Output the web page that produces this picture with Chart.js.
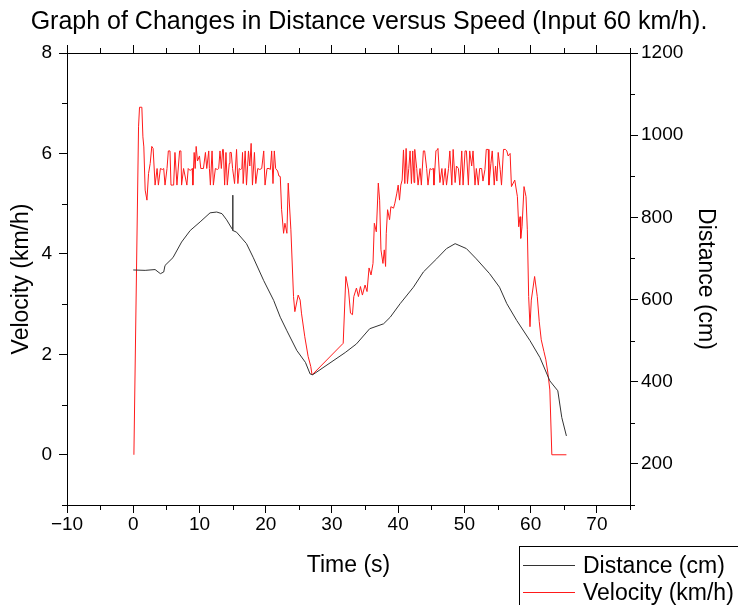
<!DOCTYPE html>
<html lang="en">
<head>
<meta charset="UTF-8">
<title>Distance versus Speed</title>
<script src="https://cdn.jsdelivr.net/npm/chart.js"></script>
<style>
  html, body { margin: 0; padding: 0; background: #fff; overflow: hidden; }
  #wrap { position: relative; width: 738px; height: 605px; }
  #legend { position: absolute; left: 519px; top: 546px; width: 240px; height: 80px;
            border: 1px solid #000; font-family: "Liberation Sans", Arial, sans-serif; font-size: 23px; color: #000; }
  .item { position: absolute; left: 0; height: 27px; display: flex; align-items: center; white-space: nowrap; }
  .swatch { width: 52px; height: 0; border-top: 1px solid; margin: 0 8px 0 3px; }
</style>
</head>
<body>
<div id="wrap">
  <canvas id="myChart" width="738" height="605"></canvas>
  <div id="legend"></div>
</div>
<script>
// tick labels
const xTicks = [-10, 0, 10, 20, 30, 40, 50, 60, 70];
const velTicks = [0, 2, 4, 6, 8];
const distTicks = [200, 400, 600, 800, 1000, 1200];

// distance (cm)
const distTime = [0, 1.8, 3.3, 4.1, 4.6, 4.8, 6.0, 7.3, 8.6, 10.1, 11.6, 12.6, 13.4, 14.1, 15.0, 15.02, 15.05, 15.6,
  17.1, 18.1, 19.7, 21.2, 22.2, 23.2, 24.7, 26.0, 26.7, 27.1, 32.0, 33.7, 35.7, 37.8, 38.8, 40.3, 42.3, 43.8,
  45.8, 47.3, 48.6, 50.3, 51.8, 53.8, 55.3, 56.4, 57.9, 59.9, 61.4, 62.9, 64.1, 64.7, 65.4];
const distValues = [672, 671, 673, 663, 667, 683, 702, 740, 768, 789, 811, 813, 809, 794, 770, 854, 768, 764,
  736, 703, 646, 598, 557, 524, 476, 447, 419, 417, 471, 492, 529, 541, 557, 590, 630, 667,
  699, 724, 736, 724, 699, 663, 630, 590, 549, 500, 459, 402, 378, 313, 268];

// velocity (km/h)
const velTime = [0.1, 0.8, 0.95, 1.3, 1.46, 1.6, 1.8, 2.07, 2.31, 2.56, 2.8, 3.0, 3.3, 3.6, 3.8, 4.1, 4.4, 4.6, 4.8,
  5.1, 5.3, 5.55, 5.7, 5.9, 6.1, 6.3, 6.6, 7.0, 7.2, 7.3, 7.6, 8.1, 8.3, 8.6, 8.9, 9.0, 9.2, 9.35, 9.5, 9.7,
  10.0, 10.2, 10.6, 10.9, 11.1, 11.4, 11.5, 11.65, 11.9, 12.1, 12.4, 12.7, 12.9, 13.1, 13.3, 13.5, 13.6, 13.8,
  14.0, 14.2, 14.5, 14.6, 14.8, 15.0, 15.3, 15.6, 15.8, 16.0, 16.2, 16.4, 16.5, 16.6, 16.9, 17.1, 17.4, 17.6,
  17.8, 18.0, 18.3, 18.5, 18.8, 19.1, 19.4, 19.7, 19.9, 20.2, 20.5, 20.7, 20.9, 21.1, 21.3, 21.5, 21.8, 22.0,
  22.2, 22.4, 22.7, 22.9, 23.2, 23.4, 23.8, 24.2, 24.4, 24.9, 25.2, 25.4, 25.9, 26.4, 26.8, 27.0,
  31.7, 32.1, 32.5, 32.8, 33.1, 33.3, 33.7, 34.0, 34.3, 34.6, 35.0, 35.3, 35.6, 35.9, 36.2, 36.4, 36.7, 37.0,
  37.2, 37.4, 37.7, 37.9, 38.1, 38.2, 38.4, 38.7, 38.9, 39.3, 39.5, 39.8, 40.0, 40.2, 40.4, 40.6, 40.8,
  41.0, 41.2, 41.4, 41.6, 41.8, 42.0, 42.2, 42.4, 42.5, 42.8, 43.0, 43.3, 43.5, 43.8, 44.0, 44.3, 44.5, 44.8,
  45.0, 45.3, 45.4, 45.7, 45.9, 46.0, 46.3, 46.6, 46.8, 47.1, 47.3, 47.6, 47.8, 48.1, 48.3, 48.6, 48.8, 49.1,
  49.3, 49.6, 49.8, 50.1, 50.3, 50.6, 50.8, 51.1, 51.3, 51.6, 51.8, 52.1, 52.3, 52.6, 52.8, 53.1, 53.3, 53.6,
  53.7, 54.0, 54.2, 54.5, 54.7, 54.9, 55.1, 55.4, 55.6, 55.9, 56.2, 56.4, 56.6, 56.9, 57.1, 57.6, 58.0, 58.2,
  58.4, 58.5, 58.7, 59.0, 59.3, 59.5, 59.7, 59.9, 60.1, 60.6, 61.0, 61.3, 61.6, 62.0, 62.3, 62.6, 62.9, 63.2, 65.4];
const velValues = [0, 6.53, 6.92, 6.92, 6.33, 6.13, 5.27, 5.07, 5.6, 5.8, 6.14, 6.1, 5.37, 5.7, 5.37, 5.7, 5.68, 5.7, 5.37,
  5.7, 6.05, 6.05, 5.37, 5.37, 5.37, 6.02, 5.37, 6.05, 6.05, 5.37, 5.7, 5.37, 5.7, 5.66, 5.7, 5.37, 6.02, 5.7, 6.14, 5.85,
  5.95, 5.7, 5.7, 6.02, 5.7, 6.05, 5.7, 5.37, 6.05, 5.37, 5.7, 5.68, 5.7, 6.05, 5.7, 6.08, 6.08, 5.37,
  6.02, 5.37, 5.8, 6.02, 6.02, 5.7, 5.4, 6.08, 5.4, 5.7, 5.68, 5.7, 6.02, 5.4, 6.05, 5.37, 6.05, 5.75,
  6.2, 5.37, 6.02, 5.4, 5.7, 5.68, 5.7, 6.05, 5.37, 5.7, 5.7, 5.68, 6.05, 5.4, 6.05, 5.7, 5.65, 5.55,
  5.54, 4.88, 4.41, 4.61, 4.41, 5.41, 4.48, 3.15, 2.85, 3.18, 3.08, 2.82, 2.35, 1.96, 1.76, 1.59,
  2.22, 3.55, 3.28, 2.82, 2.79, 3.15, 3.32, 3.15, 3.35, 3.18, 3.38, 3.25, 3.72, 3.58, 3.81, 4.61, 4.44, 5.41,
  5.07, 4.08, 3.81, 4.08, 3.75, 4.41, 4.88, 4.68, 4.94, 4.91, 5.01, 5.21, 5.37, 5.07, 5.37, 5.47, 6.07,
  5.4, 6.1, 5.4, 5.7, 6.05, 5.4, 6.05, 5.42, 6.08, 5.7, 5.37, 5.7, 5.37, 6.05, 6.05, 5.7, 5.37, 5.7,
  5.68, 5.7, 5.37, 6.05, 6.08, 6.1, 5.42, 5.7, 5.37, 5.7, 5.37, 5.7, 6.05, 5.37, 6.08, 5.42, 5.75, 5.7,
  5.37, 6.05, 5.37, 6.05, 6.05, 5.37, 6.05, 5.75, 6.05, 5.37, 5.7, 5.37, 5.7, 5.7, 5.45, 5.68, 6.08, 6.08,
  5.37, 5.8, 6.05, 5.37, 5.75, 5.45, 6.02, 5.68, 5.37, 6.08, 6.08, 6.05, 5.95, 6.0, 5.34, 5.47, 5.14, 4.54,
  4.74, 4.31, 4.54, 5.34, 5.14, 4.48, 3.15, 2.55, 3.08, 3.55, 3.15, 2.65, 2.29, 2.06, 1.89, 1.63, 1.29, 0, 0];

const FONT = '"Liberation Sans", Arial, sans-serif';
Chart.defaults.font.family = FONT;
Chart.defaults.color = '#000';

const distPoints = distTime.map((t, i) => ({ x: t, y: distValues[i] }));
const velPoints = velTime.map((t, i) => ({ x: t, y: velValues[i] }));

function minus(v) { return v < 0 ? '\u2212' + Math.abs(v) : String(v); }
function setTicks(list) { return s => { s.ticks = list.map(v => ({ value: v })); }; }

const titleSize = 25;
const titlePadTop = 7;

const axisGrid = { drawOnChartArea: false, drawTicks: true, tickLength: 8, color: '#000', lineWidth: 1 };
const axisBorder = { display: true, color: '#000', width: 1 };
const tickFont = { size: 19 };

// small ticks halfway between the labelled ones
const minorTicks = {
  id: 'minorTicks',
  afterDraw(chart) {
    const ctx = chart.ctx;
    const len = 5;
    ctx.save();
    ctx.strokeStyle = '#000';
    ctx.lineWidth = 1;
    ctx.beginPath();
    ['x', 'x2', 'y', 'y2'].forEach(id => {
      const s = chart.scales[id];
      const half = (s.ticks[1].value - s.ticks[0].value) / 2;
      s.ticks.forEach(t => {
        const v = id[0] === 'x' ? t.value + half : t.value - half;
        if (v < s.min || v > s.max) return;
        const p = Math.round(s.getPixelForValue(v)) + 0.5;
        if (id === 'x') { ctx.moveTo(p, s.top); ctx.lineTo(p, s.top + len); }
        if (id === 'x2') { ctx.moveTo(p, s.bottom); ctx.lineTo(p, s.bottom - len); }
        if (id === 'y') { ctx.moveTo(s.right, p); ctx.lineTo(s.right - len, p); }
        if (id === 'y2') { ctx.moveTo(s.left, p); ctx.lineTo(s.left + len, p); }
      });
    });
    ctx.stroke();
    ctx.restore();
  }
};

const ctx = document.getElementById('myChart').getContext('2d');
const myChart = new Chart(ctx, {
  type: 'line',
  data: {
    datasets: [{
      label: 'Distance (cm)',
      data: distPoints,
      xAxisID: 'x',
      yAxisID: 'y2',
      borderColor: '#333333',
      borderWidth: 1,
      pointRadius: 0,
      tension: 0
    }, {
      label: 'Velocity (km/h)',
      data: velPoints,
      xAxisID: 'x',
      yAxisID: 'y',
      borderColor: '#ff1a1a',
      borderWidth: 1,
      pointRadius: 0,
      tension: 0
    }]
  },
  options: {
    responsive: false,
    devicePixelRatio: 1,
    animation: false,
    layout: { padding: 0 },
    plugins: {
      legend: { display: false },
      tooltip: { enabled: false },
      title: {
        display: true,
        text: 'Graph of Changes in Distance versus Speed (Input 60 km/h).',
        font: { size: titleSize, weight: 'normal' },
        color: '#000',
        padding: { top: titlePadTop, bottom: 0 }
      }
    },
    scales: {
      x: {
        type: 'linear', position: 'bottom', min: -10, max: 75, bounds: 'data',
        afterBuildTicks: setTicks(xTicks),
        afterFit: s => { s.height = 100; },
        ticks: { font: tickFont, color: '#000', padding: 0, maxRotation: 0, autoSkip: false, callback: v => minus(v) },
        grid: axisGrid, border: axisBorder,
        title: { display: true, text: 'Time (s)', font: { size: 23 }, color: '#000', padding: { top: 0, bottom: 26 } }
      },
      x2: {
        type: 'linear', position: 'top', min: -10, max: 75, bounds: 'data',
        afterBuildTicks: setTicks(xTicks),
        afterFit: s => { s.height = 53 - (titlePadTop + titleSize * 1.2); },
        ticks: { display: false },
        grid: axisGrid, border: axisBorder
      },
      y: {
        type: 'linear', position: 'left', min: -1, max: 8, bounds: 'data',
        afterBuildTicks: setTicks(velTicks),
        afterFit: s => { s.width = 67; },
        ticks: { font: tickFont, color: '#000', padding: 7, callback: v => String(v) },
        grid: axisGrid, border: axisBorder,
        title: { display: true, text: 'Velocity (km/h)', font: { size: 23 }, color: '#000', padding: { top: 8, bottom: 0 } }
      },
      y2: {
        type: 'linear', position: 'right', min: 100, max: 1200, bounds: 'data',
        afterBuildTicks: setTicks(distTicks),
        afterFit: s => { s.width = 108; },
        ticks: { font: tickFont, color: '#000', padding: 3, callback: v => String(v) },
        grid: axisGrid, border: axisBorder,
        title: { display: true, text: 'Distance (cm)', font: { size: 23 }, color: '#000', padding: { top: 19, bottom: 0 } }
      }
    }
  },
  plugins: [minorTicks]
});

// boxed legend from the dataset labels
const legend = document.getElementById('legend');
myChart.data.datasets.forEach((ds, i) => {
  const item = document.createElement('div');
  item.className = 'item';
  item.style.top = (5 + i * 27) + 'px';
  const sw = document.createElement('span');
  sw.className = 'swatch';
  sw.style.borderTopColor = ds.borderColor;
  const label = document.createElement('span');
  label.textContent = ds.label;
  item.appendChild(sw);
  item.appendChild(label);
  legend.appendChild(item);
});
</script>
</body>
</html>
